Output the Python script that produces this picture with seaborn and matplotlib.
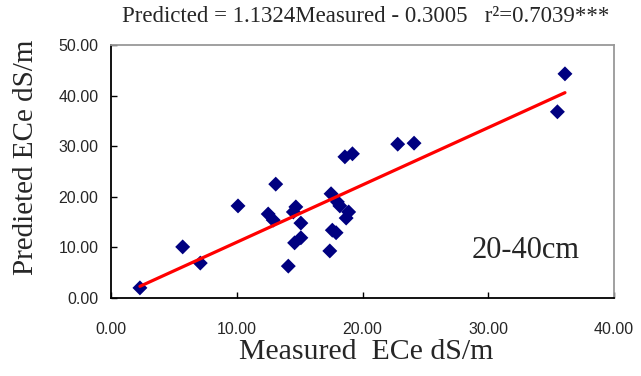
import matplotlib
matplotlib.use("Agg")
import matplotlib.pyplot as plt
import seaborn as sns
import numpy as np
import pandas as pd

measured = [2.3, 5.7, 7.1, 10.1, 12.5, 12.9, 13.1, 14.1, 14.6, 15.1, 14.7, 14.5,
            15.1, 17.5, 18.0, 18.2, 18.9, 18.7, 17.6, 17.9, 17.4, 18.6, 19.2,
            22.8, 24.1, 35.5, 36.1]
predicted = [2.0, 10.1, 6.9, 18.2, 16.6, 15.4, 22.5, 6.3, 10.9, 11.9, 18.0, 17.0,
             14.8, 20.6, 19.0, 18.2, 17.0, 15.8, 13.4, 12.9, 9.3, 27.9, 28.5,
             30.4, 30.6, 36.8, 44.3]
slope = 1.1324
intercept = -0.3005
x_ticks = [0, 10, 20, 30, 40]
y_ticks = [0, 10, 20, 30, 40, 50]
title_text = "Predicted = 1.1324Measured - 0.3005   r\u00b2=0.7039***"
x_label = "Measured  ECe dS/m"
y_label = "Predieted ECe dS/m"
depth_label = "20-40cm"

df = pd.DataFrame({"Measured": measured, "Predicted": predicted})

sns.set_style("white")
plt.rcParams['font.family'] = ['Liberation Serif', 'DejaVu Serif']

fig = plt.figure(figsize=(6.41, 3.76), dpi=100)
ax = fig.add_axes([111/641, 1-298/376, (614-111)/641, (298-45)/376])

xl = np.array([min(measured), max(measured)])
fit_df = pd.DataFrame({"x": xl, "y": slope*xl + intercept})
sns.lineplot(data=fit_df, x="x", y="y", ax=ax, color="#ff0000", linewidth=2.3, zorder=3)
sns.scatterplot(data=df, x="Measured", y="Predicted", ax=ax, marker="D", s=58,
                color="#000080", edgecolor="none", linewidth=0, zorder=2)

ax.set_xlim(0, 40)
ax.set_ylim(0, 50)
ax.set_xticks(x_ticks)
ax.set_yticks(y_ticks)
ax.set_xticklabels([f"{v:.2f}" for v in x_ticks])
ax.set_yticklabels([f"{v:.2f}" for v in y_ticks])
for lab in ax.get_xticklabels() + ax.get_yticklabels():
    lab.set_family(['Liberation Sans', 'DejaVu Sans'])
    lab.set_fontsize(11.5)
ax.tick_params(axis='both', direction='in', length=4, width=1, color='black',
               bottom=True, left=True)
ax.tick_params(axis='x', pad=17)
ax.tick_params(axis='y', pad=9)
ax.set_xlabel("")
ax.set_ylabel("")

for side in ["left", "bottom"]:
    ax.spines[side].set_color("black")
    ax.spines[side].set_linewidth(1.3)
for side in ["top", "right"]:
    ax.spines[side].set_color("#999999")
    ax.spines[side].set_linewidth(1.3)
    ax.spines[side].set_visible(True)

ax.text((526-111)/12.575, (298-250)/5.06, depth_label, fontsize=22, ha="center", va="center")

fig.text(366/641, 1-17/376, title_text, fontsize=16.5, ha="center", va="center")
fig.text(366/641, 1-352/376, x_label, fontsize=21.5, ha="center", va="center")
fig.text(26/641, 1-157/376, y_label, fontsize=21, ha="center", va="center", rotation=90)

fig.savefig("out.png", dpi=100)
